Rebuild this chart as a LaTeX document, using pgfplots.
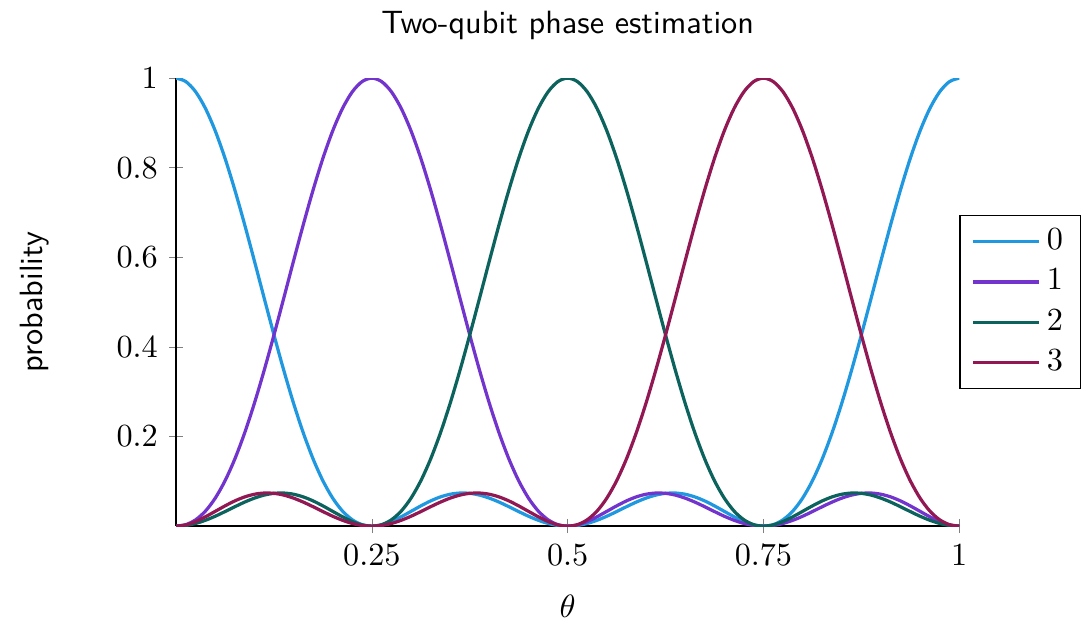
\documentclass[border=0pt]{standalone}
\usepackage{pgfplots}
\usepackage{pgfplotstable}
\pgfplotsset{compat=1.18}
\definecolor{cZero}{RGB}{32,152,224}
\definecolor{cOne}{RGB}{114,52,204}
\definecolor{cTwo}{RGB}{12,98,92}
\definecolor{cThree}{RGB}{146,24,84}
\pgfplotstableread{
x p0 p1 p2 p3
0 1 0 0 0
0.0125 0.9923 0.0033 0.0015 0.0028
0.025 0.9695 0.0142 0.0060 0.0103
0.0375 0.9324 0.0336 0.0131 0.0209
0.05 0.8824 0.0625 0.0221 0.0330
0.0625 0.8211 0.1012 0.0325 0.0452
0.075 0.7506 0.1498 0.0433 0.0563
0.0875 0.6734 0.2078 0.0536 0.0652
0.1 0.5920 0.2743 0.0625 0.0712
0.1125 0.5089 0.3479 0.0693 0.0739
0.125 0.4268 0.4268 0.0732 0.0732
0.1375 0.3479 0.5089 0.0739 0.0693
0.15 0.2743 0.5920 0.0712 0.0625
0.1625 0.2078 0.6734 0.0652 0.0536
0.175 0.1498 0.7506 0.0563 0.0433
0.1875 0.1012 0.8211 0.0452 0.0325
0.2 0.0625 0.8824 0.0330 0.0221
0.2125 0.0336 0.9324 0.0209 0.0131
0.225 0.0142 0.9695 0.0103 0.0060
0.2375 0.0033 0.9923 0.0028 0.0015
0.25 0 1 0 0
0.2625 0.0028 0.9923 0.0033 0.0015
0.275 0.0103 0.9695 0.0142 0.0060
0.2875 0.0209 0.9324 0.0336 0.0131
0.3 0.0330 0.8824 0.0625 0.0221
0.3125 0.0452 0.8211 0.1012 0.0325
0.325 0.0563 0.7506 0.1498 0.0433
0.3375 0.0652 0.6734 0.2078 0.0536
0.35 0.0712 0.5920 0.2743 0.0625
0.3625 0.0739 0.5089 0.3479 0.0693
0.375 0.0732 0.4268 0.4268 0.0732
0.3875 0.0693 0.3479 0.5089 0.0739
0.4 0.0625 0.2743 0.5920 0.0712
0.4125 0.0536 0.2078 0.6734 0.0652
0.425 0.0433 0.1498 0.7506 0.0563
0.4375 0.0325 0.1012 0.8211 0.0452
0.45 0.0221 0.0625 0.8824 0.0330
0.4625 0.0131 0.0336 0.9324 0.0209
0.475 0.0060 0.0142 0.9695 0.0103
0.4875 0.0015 0.0033 0.9923 0.0028
0.5 0 0 1 0
0.5125 0.0015 0.0028 0.9923 0.0033
0.525 0.0060 0.0103 0.9695 0.0142
0.5375 0.0131 0.0209 0.9324 0.0336
0.55 0.0221 0.0330 0.8824 0.0625
0.5625 0.0325 0.0452 0.8211 0.1012
0.575 0.0433 0.0563 0.7506 0.1498
0.5875 0.0536 0.0652 0.6734 0.2078
0.6 0.0625 0.0712 0.5920 0.2743
0.6125 0.0693 0.0739 0.5089 0.3479
0.625 0.0732 0.0732 0.4268 0.4268
0.6375 0.0739 0.0693 0.3479 0.5089
0.65 0.0712 0.0625 0.2743 0.5920
0.6625 0.0652 0.0536 0.2078 0.6734
0.675 0.0563 0.0433 0.1498 0.7506
0.6875 0.0452 0.0325 0.1012 0.8211
0.7 0.0330 0.0221 0.0625 0.8824
0.7125 0.0209 0.0131 0.0336 0.9324
0.725 0.0103 0.0060 0.0142 0.9695
0.7375 0.0028 0.0015 0.0033 0.9923
0.75 0 0 0 1
0.7625 0.0033 0.0015 0.0028 0.9923
0.775 0.0142 0.0060 0.0103 0.9695
0.7875 0.0336 0.0131 0.0209 0.9324
0.8 0.0625 0.0221 0.0330 0.8824
0.8125 0.1012 0.0325 0.0452 0.8211
0.825 0.1498 0.0433 0.0563 0.7506
0.8375 0.2078 0.0536 0.0652 0.6734
0.85 0.2743 0.0625 0.0712 0.5920
0.8625 0.3479 0.0693 0.0739 0.5089
0.875 0.4268 0.0732 0.0732 0.4268
0.8875 0.5089 0.0739 0.0693 0.3479
0.9 0.5920 0.0712 0.0625 0.2743
0.9125 0.6734 0.0652 0.0536 0.2078
0.925 0.7506 0.0563 0.0433 0.1498
0.9375 0.8211 0.0452 0.0325 0.1012
0.95 0.8824 0.0330 0.0221 0.0625
0.9625 0.9324 0.0209 0.0131 0.0336
0.975 0.9695 0.0103 0.0060 0.0142
0.9875 0.9923 0.0028 0.0015 0.0033
1 1 0 0 0
}\probtable
\begin{document}
\begin{tikzpicture}
\begin{axis}[
  scale only axis,
  width=243pt, height=139pt,
  xmin=0, xmax=1, ymin=0, ymax=1,
  axis lines=left,
  axis line style={-},
  tick align=center,
  major tick style={gray},
  xtick={0.25,0.5,0.75,1},
  xticklabels={$0.25$,$0.5$,$0.75$,$1$},
  ytick={0.2,0.4,0.6,0.8,1},
  yticklabels={$0.2$,$0.4$,$0.6$,$0.8$,$1$},
  title={\sffamily Two-qubit phase estimation},
  title style={yshift=2.5pt},
  xlabel={$\theta$},
  xlabel style={yshift=-2.5pt},
  ylabel={\sffamily probability},
  ylabel style={yshift=14pt},
  legend style={at={(1,0.5)}, anchor=west, draw=black, fill=white,
    inner xsep=3.5pt, row sep=0.6pt},
  legend image code/.code={\draw[#1] (0cm,0cm) -- (0.72cm,0cm);},
  legend cell align=left,
  every axis plot/.append style={line width=1pt, smooth, no markers},
]
\addplot[color=cZero] table[x=x,y=p0] {\probtable};
\addlegendentry{$0$}
\addplot[color=cOne] table[x=x,y=p1] {\probtable};
\addlegendentry{$1$}
\addplot[color=cTwo] table[x=x,y=p2] {\probtable};
\addlegendentry{$2$}
\addplot[color=cThree] table[x=x,y=p3] {\probtable};
\addlegendentry{$3$}
\end{axis}
\path (current bounding box.south west) ++(-3pt,-1.5pt);
\path (current bounding box.north east) ++(3pt,0pt);
\end{tikzpicture}
\end{document}
